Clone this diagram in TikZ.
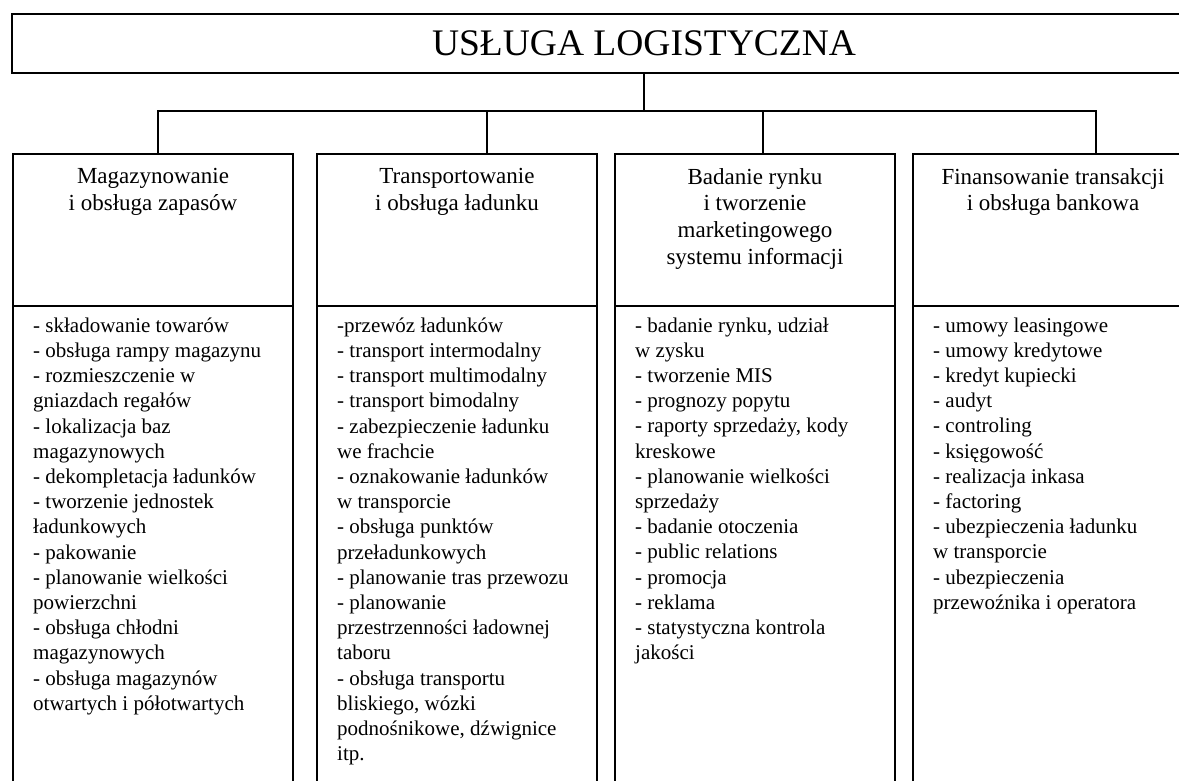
\documentclass[tikz,border=0pt]{standalone}
\usepackage{fontspec}
\setmainfont{Liberation Serif}
\usetikzlibrary{calc}
\newcommand\titlesize{\fontsize{37.5}{45}\selectfont}
\newcommand\headsize{\fontsize{23}{26.7}\selectfont}
\newcommand\listsize{\fontsize{21}{25.2}\selectfont}
\tikzset{
  box/.style={draw, line width=2pt, inner sep=0pt, anchor=north west, minimum width=280pt},
  headtext/.style={font=\headsize, align=center, anchor=north, inner sep=0pt, execute at begin node=\strut},
  listtext/.style={font=\listsize, align=left, anchor=north west, inner sep=0pt, execute at begin node=\strut},
  link/.style={line width=2pt}
}

\begin{document}
\begin{tikzpicture}[x=1pt,y=-1pt]
  \useasboundingbox (0,0) rectangle (1179,780);
  \clip (0,0) rectangle (1179,780);

  \node[draw, line width=2pt, minimum width=1264pt, minimum height=59pt, font=\titlesize] (top) at (644,43.5) {USŁUGA LOGISTYCZNA};

  % headers and lists
  \foreach \n/\x in {1/12,2/316,3/614,4/912}{
    \node[box, minimum height=152pt] (h\n) at (\x,153) {};
    \node[box, minimum height=480pt] (l\n) at (\x,305) {};
  }

  \node[headtext] (t1) at ([yshift=-15pt]h1.north) {Magazynowanie\\i obsługa zapasów};
  \node[headtext] (t2) at ([yshift=-15pt]h2.north) {Transportowanie\\i obsługa ładunku};
  \node[headtext] (t3) at ([yshift=-15pt]h3.north) {Badanie rynku\\i tworzenie\\marketingowego\\systemu informacji};
  \node[headtext] (t4) at ([yshift=-15pt]h4.north) {Finansowanie transakcji\\i obsługa bankowa};

  \node[listtext] (s1) at ([shift={(21pt,-12.4pt)}]l1.north west) {- składowanie towarów\\- obsługa rampy magazynu\\- rozmieszczenie w\\gniazdach regałów\\- lokalizacja baz\\magazynowych\\- dekompletacja ładunków\\- tworzenie jednostek\\ładunkowych\\- pakowanie\\- planowanie wielkości\\powierzchni\\- obsługa chłodni\\magazynowych\\- obsługa magazynów\\otwartych i półotwartych};
  \node[listtext] (s2) at ([shift={(21pt,-12.4pt)}]l2.north west) {-przewóz ładunków\\- transport intermodalny\\- transport multimodalny\\- transport bimodalny\\- zabezpieczenie ładunku\\we frachcie\\- oznakowanie ładunków\\w transporcie\\- obsługa punktów\\przeładunkowych\\- planowanie tras przewozu\\- planowanie\\przestrzenności ładownej\\taboru\\- obsługa transportu\\bliskiego, wózki\\podnośnikowe, dźwignice\\itp.};
  \node[listtext] (s3) at ([shift={(21pt,-12.4pt)}]l3.north west) {- badanie rynku, udział\\w zysku\\- tworzenie MIS\\- prognozy popytu\\- raporty sprzedaży, kody\\kreskowe\\- planowanie wielkości\\sprzedaży\\- badanie otoczenia\\- public relations\\- promocja\\- reklama\\- statystyczna kontrola\\jakości};
  \node[listtext] (s4) at ([shift={(21pt,-12.4pt)}]l4.north west) {- umowy leasingowe\\- umowy kredytowe\\- kredyt kupiecki\\- audyt\\- controling\\- księgowość\\- realizacja inkasa\\- factoring\\- ubezpieczenia ładunku\\w transporcie\\- ubezpieczenia\\przewoźnika i operatora};

  % tree
  \coordinate (bus) at (644,110.7);
  \draw[link] (top.south) -- (bus);
  \foreach \n/\d in {1/5,2/30,3/8,4/43}
    \draw[link] ([xshift=\d pt]h\n.north) |- (bus);
\end{tikzpicture}
\end{document}
